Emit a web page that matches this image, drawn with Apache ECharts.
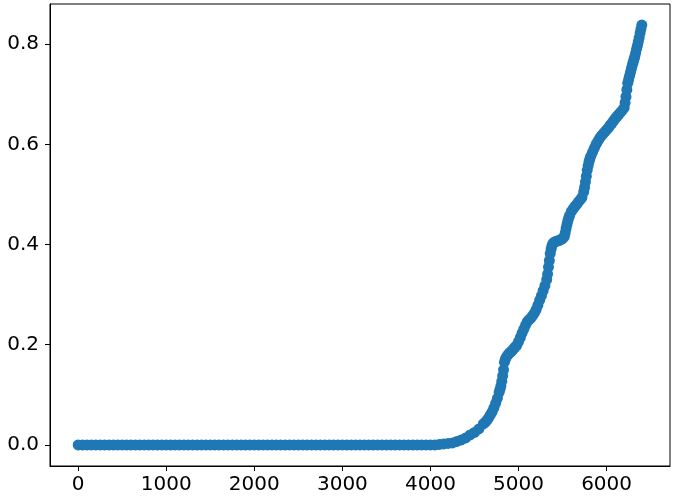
<!DOCTYPE html>
<html>
<head>
<meta charset="utf-8">
<script src="https://cdn.jsdelivr.net/npm/echarts@6/dist/echarts.min.js"></script>
<style>
  html, body { margin: 0; padding: 0; background: #fff; }
  #chart { width: 680px; height: 502px; }
</style>
</head>
<body>
<div id="chart"></div>
<script>
// flat part: 0..4000, every 50, all at zero
const flatX = []
for (let x = 0; x <= 4000; x += 50) flatX.push(x)
const flatY = flatX.map(() => 0)

// onset, every 50
const riseX = [4050, 4100, 4150, 4200, 4250, 4300, 4350, 4400, 4450, 4500, 4550, 4600]
const riseY = [0.000, 0.001, 0.002, 0.003, 0.004, 0.007, 0.010, 0.014, 0.020, 0.025, 0.032, 0.042]

// steep part, every 20 from 4620 to 6400
const steepY = [
  0.045, 0.049, 0.054, 0.060, 0.066, 0.074, 0.083, 0.093, 0.105, 0.118,
  0.138, 0.165, 0.175, 0.180, 0.184, 0.187, 0.191, 0.195, 0.199, 0.206,
  0.214, 0.223, 0.231, 0.239, 0.246, 0.250, 0.253, 0.258, 0.263, 0.270,
  0.279, 0.289, 0.298, 0.308, 0.318, 0.330, 0.355, 0.382, 0.398, 0.404,
  0.406, 0.407, 0.408, 0.410, 0.412, 0.416, 0.432, 0.447, 0.458, 0.466,
  0.471, 0.476, 0.480, 0.485, 0.489, 0.494, 0.505, 0.525, 0.548, 0.565,
  0.576, 0.584, 0.592, 0.600, 0.606, 0.612, 0.617, 0.621, 0.625, 0.629,
  0.633, 0.638, 0.642, 0.647, 0.652, 0.656, 0.660, 0.664, 0.668, 0.673,
  0.695, 0.722, 0.736, 0.750, 0.763, 0.775, 0.790, 0.805, 0.822, 0.838
]
const steepX = steepY.map((_, i) => 4620 + i * 20)

// extra readings where the curve climbs fastest
const jumpX = [4790, 4810, 4830, 4850, 5330, 5350, 5370, 5390, 5530, 5550, 5570,
  5750, 5770, 5790, 5810, 6210, 6230, 6250, 6270, 6290, 6310, 6330, 6350, 6370, 6390]
const jumpY = [0.111, 0.127, 0.150, 0.171, 0.341, 0.368, 0.391, 0.402, 0.423, 0.440, 0.453,
  0.514, 0.536, 0.557, 0.571, 0.683, 0.709, 0.729, 0.743, 0.757, 0.769, 0.782, 0.797, 0.813, 0.830]

const xTicks = [0, 1000, 2000, 3000, 4000, 5000, 6000]
const yTicks = [0, 0.2, 0.4, 0.6, 0.8]

const xs = [...flatX, ...riseX, ...steepX, ...jumpX]
const ys = [...flatY, ...riseY, ...steepY, ...jumpY]
const points = xs.map((x, i) => [x, ys[i]]).sort((a, b) => a[0] - b[0])

const FONT = 'DejaVu Sans'
const BLUE = '#1f77b4'

const chart = echarts.init(document.getElementById('chart'))
chart.setOption({
  animation: false,
  grid: {
    left: 50, right: 10, top: 4, bottom: 36,
    show: true, borderColor: '#000', borderWidth: 1,
  },
  xAxis: {
    type: 'value',
    min: -320,
    max: 6720,
    splitLine: { show: false },
    axisLine: { show: true, onZero: false, lineStyle: { color: '#000' } },
    axisTick: { show: true, length: 5, lineStyle: { color: '#000' }, customValues: xTicks },
    axisLabel: {
      color: '#000', fontSize: 20, fontFamily: FONT, margin: 9,
      customValues: xTicks,
      formatter: (v) => String(v),
    },
  },
  yAxis: {
    type: 'value',
    min: -0.042,
    max: 0.880,
    splitLine: { show: false },
    axisLine: { show: true, onZero: false, lineStyle: { color: '#000' } },
    axisTick: { show: true, length: 5, lineStyle: { color: '#000' }, customValues: yTicks },
    axisLabel: {
      color: '#000', fontSize: 20, fontFamily: FONT, margin: 11,
      customValues: yTicks,
      formatter: (v) => v.toFixed(1),
    },
  },
  series: [{
    type: 'scatter',
    data: points,
    symbol: 'circle',
    symbolSize: 11,
    itemStyle: { color: BLUE, opacity: 1 },
  }],
})
</script>
</body>
</html>
